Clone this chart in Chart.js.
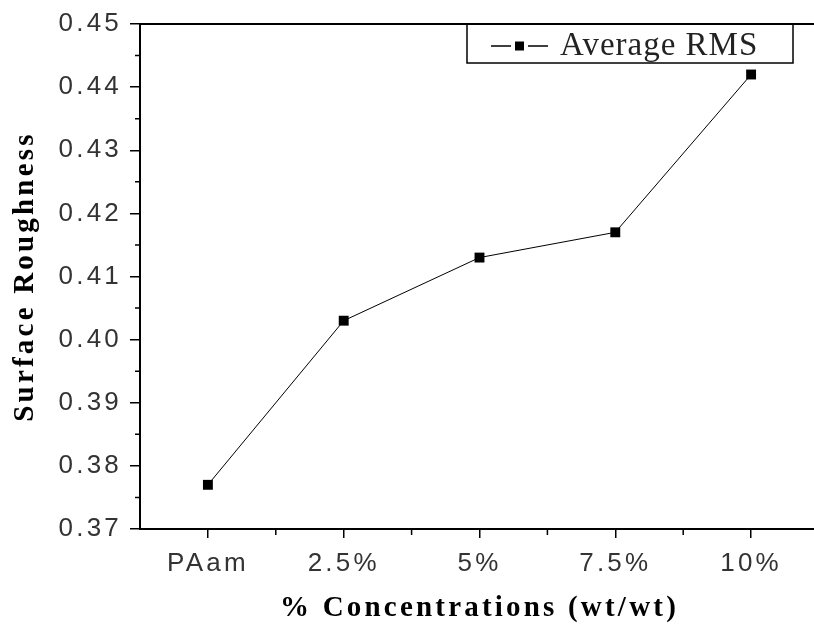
<!DOCTYPE html>
<html>
<head>
<meta charset="utf-8">
<script src="https://cdn.jsdelivr.net/npm/chart.js@4.4.1/dist/chart.umd.min.js"></script>
<style>
    html, body { margin: 0; padding: 0; background: #fff; overflow: hidden; }
    #wrap { position: relative; width: 826px; height: 628px; }
</style>
</head>
<body>
<div id="wrap"><canvas id="chart"></canvas></div>
<script>
// data
const categories = ['PAam', '2.5%', '5%', '7.5%', '10%'];
const rmsValues = [0.377, 0.403, 0.413, 0.417, 0.442];
const yTickValues = [0.37, 0.38, 0.39, 0.40, 0.41, 0.42, 0.43, 0.44, 0.45];
const seriesLabel = 'Average RMS';
const xTitle = '% Concentrations (wt/wt)';
const yTitle = 'Surface Roughness';

const tickFont = { family: '"Liberation Sans", Arial, sans-serif', size: 26 };
const titleFont = { family: '"Liberation Serif", "Times New Roman", serif', size: 29, weight: 'bold' };

// spacing between letters like the original export
const letterSpacingPlugin = {
    id: 'letterSpacing',
    beforeDraw(chart) {
        chart.ctx.letterSpacing = '3.2px';
    }
};

// minor ticks, plot frame and the boxed legend inside the plot
const decorPlugin = {
    id: 'decor',
    afterDraw(chart) {
        const ctx = chart.ctx;
        const area = chart.chartArea;
        const x = chart.scales.x;
        const y = chart.scales.y;
        ctx.save();
        ctx.strokeStyle = '#000';
        ctx.lineWidth = 1.5;

        ctx.beginPath();
        for (let i = 0; i < yTickValues.length - 1; i++) {
            const py = y.getPixelForValue((yTickValues[i] + yTickValues[i + 1]) / 2);
            ctx.moveTo(area.left - 5, py);
            ctx.lineTo(area.left, py);
        }
        for (let i = 0; i < categories.length - 1; i++) {
            const px = (x.getPixelForValue(i) + x.getPixelForValue(i + 1)) / 2;
            ctx.moveTo(px, area.bottom);
            ctx.lineTo(px, area.bottom + 6);
        }
        ctx.stroke();

        ctx.lineWidth = 2;
        ctx.beginPath();
        ctx.moveTo(area.left, area.top);
        ctx.lineTo(area.right, area.top);
        ctx.lineTo(area.right, area.bottom);
        ctx.stroke();

        // legend
        const lx = 467, ly = area.top, lw = 326, lh = 39;
        ctx.lineWidth = 1.5;
        ctx.strokeRect(lx, ly, lw, lh);
        const cy = ly + 22;
        ctx.beginPath();
        ctx.moveTo(lx + 24, cy);
        ctx.lineTo(lx + 44, cy);
        ctx.moveTo(lx + 61, cy);
        ctx.lineTo(lx + 81, cy);
        ctx.stroke();
        ctx.fillStyle = '#000';
        ctx.fillRect(lx + 48, cy - 4.5, 9, 9);
        ctx.fillStyle = '#222';
        ctx.letterSpacing = '1px';
        ctx.font = '33px "Liberation Serif", "Times New Roman", serif';
        ctx.textAlign = 'left';
        ctx.textBaseline = 'alphabetic';
        ctx.fillText(seriesLabel, lx + 93, ly + 31);
        ctx.restore();
        ctx.letterSpacing = '0px';
    }
};

new Chart(document.getElementById('chart'), {
    type: 'line',
    data: {
        labels: categories,
        datasets: [{
            label: seriesLabel,
            data: rmsValues,
            borderColor: '#000',
            borderWidth: 1,
            backgroundColor: '#000',
            pointStyle: 'rect',
            pointRadius: 7,
            pointBorderWidth: 0,
            tension: 0
        }]
    },
    options: {
        responsive: true,
        maintainAspectRatio: false,
        animation: false,
        layout: { padding: { top: 24, right: 1, left: 0, bottom: 0 } },
        plugins: {
            legend: { display: false },
            tooltip: { enabled: false }
        },
        scales: {
            x: {
                type: 'category',
                offset: true,
                afterFit(scale) { scale.height = 99; },
                grid: {
                    offset: false,
                    drawOnChartArea: false,
                    drawTicks: true,
                    tickLength: 9,
                    color: '#000',
                    lineWidth: 1.5
                },
                border: { display: true, color: '#000', width: 2 },
                ticks: { color: '#333', font: tickFont, padding: 10, maxRotation: 0 },
                title: { display: true, text: xTitle, color: '#000', font: titleFont, padding: { top: 0, bottom: 2 } }
            },
            y: {
                min: 0.37,
                max: 0.45,
                afterFit(scale) { scale.width = 140; },
                afterBuildTicks(scale) { scale.ticks = yTickValues.map(v => ({ value: v })); },
                grid: {
                    drawOnChartArea: false,
                    drawTicks: true,
                    tickLength: 10,
                    color: '#000',
                    lineWidth: 1.5
                },
                border: { display: true, color: '#000', width: 2 },
                ticks: {
                    color: '#333',
                    font: tickFont,
                    padding: 8,
                    callback: v => Number(v).toFixed(2)
                },
                title: { display: true, text: yTitle, color: '#000', font: titleFont, padding: { top: 8, bottom: 0 } }
            }
        }
    },
    plugins: [letterSpacingPlugin, decorPlugin]
});
</script>
</body>
</html>
